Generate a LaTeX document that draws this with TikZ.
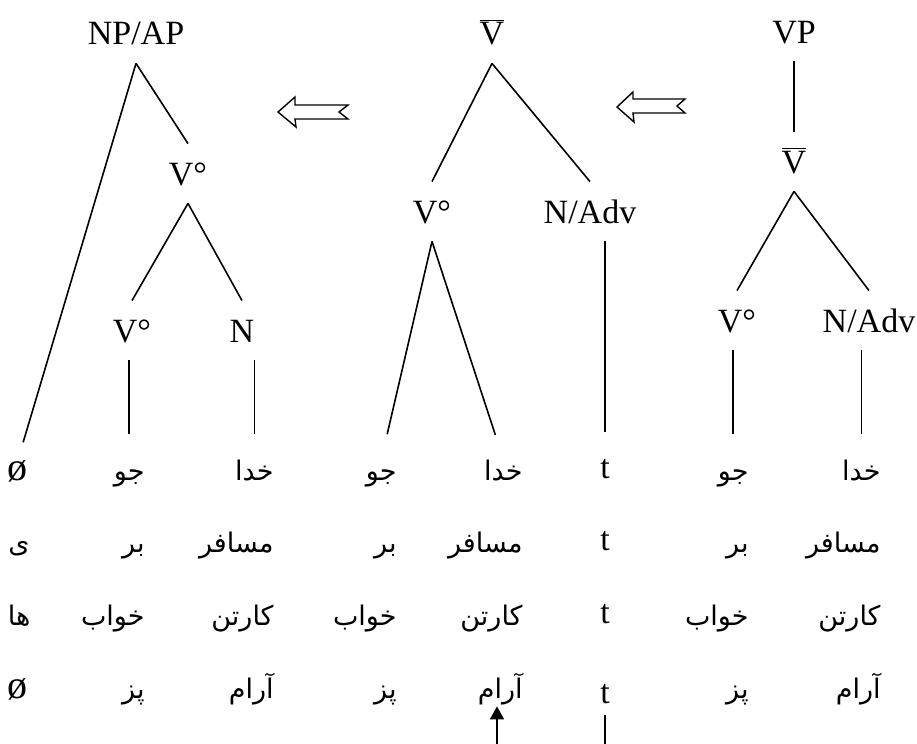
\documentclass[tikz,border=0pt]{standalone}
\usepackage{fontspec}
\setmainfont{Liberation Serif}
\newfontfamily\fa[Script=Arabic]{DejaVu Sans}
\TeXXeTstate=1
\newcommand{\fw}[1]{{\fa\fontsize{13.5}{15}\selectfont\beginR #1\endR}}
\newcommand{\nul}{{\fontsize{20}{22}\selectfont ø}}
\usetikzlibrary{arrows.meta}
\tikzset{
  cat/.style={anchor=base, font=\fontsize{17}{20}\selectfont, text height=11.5pt, text depth=0pt, inner xsep=2pt, inner ysep=9pt},
  leaf/.style={anchor=base, font=\fontsize{17}{20}\selectfont, text height=9pt, text depth=3pt, inner sep=1pt},
  rleaf/.style={leaf, anchor=base east},
  branch/.style={line width=0.8pt},
  toleaf/.style={branch, shorten >=13pt},
}

\begin{document}
\begin{tikzpicture}[x=0.5pt, y=-0.5pt]
\useasboundingbox (0,0) rectangle (917,744);

% labels of the three trees
\node[cat] (np) at (136,45) {NP/AP};
\node[cat] (va) at (188,185) {V°};
\node[cat] (vb) at (132,342) {V°};
\node[cat] (nn) at (242,342) {N};

\node[cat] (vbar) at (492,45) {$\overline{\mbox{V}}$};
\node[cat] (vc) at (432,223) {V°};
\node[cat] (nadv) at (590,223) {N/Adv};

\node[cat] (vp) at (794,43) {VP};
\node[cat] (vbarr) at (794,173) {$\overline{\mbox{V}}$};
\node[cat] (vd) at (737,332) {V°};
\node[cat] (nadvr) at (869,332) {N/Adv};

% words
\node[leaf] (c1r1) at (18,480) {\nul};
\node[leaf] (c1r2) at (19,552) {\fw{ی}};
\node[leaf] (c1r3) at (19,625) {\fw{ها}};
\node[leaf] (c1r4) at (18,698) {\nul};

\node[rleaf] (c2r1) at (147,480) {\fw{جو}};
\node[rleaf] (c2r2) at (147,552) {\fw{بر}};
\node[rleaf] (c2r3) at (147,625) {\fw{خواب}};
\node[rleaf] (c2r4) at (147,698) {\fw{پز}};

\node[rleaf] (c3r1) at (276,480) {\fw{خدا}};
\node[rleaf] (c3r2) at (276,552) {\fw{مسافر}};
\node[rleaf] (c3r3) at (276,625) {\fw{کارتن}};
\node[rleaf] (c3r4) at (276,698) {\fw{آرام}};

\node[rleaf] (c4r1) at (399,480) {\fw{جو}};
\node[rleaf] (c4r2) at (399,552) {\fw{بر}};
\node[rleaf] (c4r3) at (399,625) {\fw{خواب}};
\node[rleaf] (c4r4) at (399,698) {\fw{پز}};

\node[rleaf] (c5r1) at (525,480) {\fw{خدا}};
\node[rleaf] (c5r2) at (525,552) {\fw{مسافر}};
\node[rleaf] (c5r3) at (525,625) {\fw{کارتن}};
\node[rleaf] (c5r4) at (525,698) {\fw{آرام}};

\node[leaf] (t1) at (605,478) {t};
\node[leaf] (t2) at (605,550) {t};
\node[leaf] (t3) at (605,623) {t};
\node[leaf] (t4) at (605,703) {t};

\node[rleaf] (c6r1) at (751,480) {\fw{جو}};
\node[rleaf] (c6r2) at (751,552) {\fw{بر}};
\node[rleaf] (c6r3) at (751,625) {\fw{خواب}};
\node[rleaf] (c6r4) at (751,698) {\fw{پز}};

\node[rleaf] (c7r1) at (883,480) {\fw{خدا}};
\node[rleaf] (c7r2) at (883,552) {\fw{مسافر}};
\node[rleaf] (c7r3) at (883,625) {\fw{کارتن}};
\node[rleaf] (c7r4) at (883,698) {\fw{آرام}};

% left tree
\draw[branch, shorten >=9pt] (np.south) -- (c1r1.north);
\draw[branch] (np.south) -- (va.north);
\draw[branch] (va.south) -- (vb.north);
\draw[branch] (va.south) -- (nn.north);
\draw[toleaf] (c2r1.north |- vb.south) -- (c2r1.north);
\draw[toleaf] (c3r1.north |- nn.south) -- (c3r1.north);

% middle tree
\draw[branch] (vbar.south) -- (vc.north);
\draw[branch] (vbar.south) -- (nadv.north);
\draw[toleaf] (vc.south) -- (c4r1.north);
\draw[toleaf] (vc.south) -- (c5r1.north);
\draw[toleaf] (t1.north |- nadv.south) -- (t1.north);

% right tree
\draw[branch] (vp.south) -- (vbarr.north);
\draw[branch] (vbarr.south) -- (vd.north);
\draw[branch] (vbarr.south) -- (nadvr.north);
\draw[toleaf] (c6r1.north |- vd.south) -- (c6r1.north);
\draw[toleaf] (c7r1.north |- nadvr.south) -- (c7r1.north);

% hollow arrows
\draw[line width=0.7pt] (278,112) -- (295,97) -- (295,105) -- (348,105) -- (339,112) -- (348,119) -- (295,119) -- (296,127) -- cycle;
\draw[line width=0.7pt] (617,107) -- (633,92) -- (633,99) -- (685,99) -- (677,106) -- (685,113) -- (633,113) -- (634,122) -- cycle;

% bottom
\coordinate (foot) at (0,744);
\coordinate (up) at (497,744);
\draw[branch, shorten <=2pt] (t4.south) -- (t4.south |- foot);
\draw[branch, -{Triangle[length=6.5pt,width=7pt]}] (up) -- (up |- c5r4.south);
\end{tikzpicture}
\end{document}
